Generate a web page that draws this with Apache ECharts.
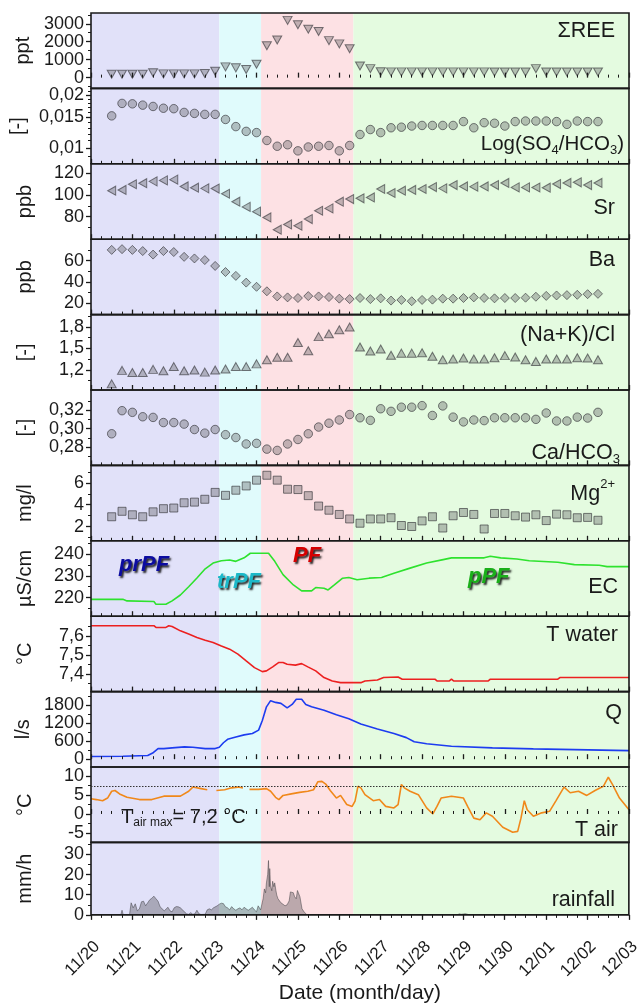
<!DOCTYPE html>
<html><head><meta charset="utf-8">
<script src="https://cdn.jsdelivr.net/npm/echarts@6/dist/echarts.min.js"></script>
<style>html,body{margin:0;padding:0;background:#fff}#c{width:643px;height:1005px}</style>
</head><body><div id="c"></div>
<script>
// ---------- data ----------
const dateLabels = ['11/20','11/21','11/22','11/23','11/24','11/25','11/26','11/27','11/28','11/29','11/30','12/01','12/02','12/03'];
const phaseBounds = [0, 3.1, 4.11, 6.34, 13];
const phaseColors = ['#e1e1f9', '#e0fbfc', '#fde1e4', '#e4fbe0'];
const phaseNames = ['prPF', 'trPF', 'PF', 'pPF'];

// sampling times (days after 11/20 00:00)
const sampleDays = [0.5,0.75,1,1.25,1.5,1.75,2,2.25,2.5,2.75,3,3.25,3.5,3.75,4,4.25,4.5,4.75,5,5.25,5.5,5.75,6,6.25,6.5,6.75,7,7.25,7.5,7.75,8,8.25,8.5,8.75,9,9.25,9.5,9.75,10,10.25,10.5,10.75,11,11.25,11.5,11.75,12,12.25];

const ree = [190,190,190,190,270,210,210,210,210,230,360, 600,545,450,750, 1780,2100,3190,2945,2700,2570,2060,1880,1610, 650,500,330,320,320,320,320,320,320,320,320,320,320,310,310,310,310,500,310,310,310,310,310,310];
const so4hco3 = [0.0152,0.0179,0.0178,0.0175,0.0172,0.0168,0.0167,0.0159,0.0157,0.0155,0.0155, 0.0145,0.0132,0.0124,0.0122, 0.0110,0.0102,0.0104,0.0096,0.0101,0.0102,0.0103,0.0096,0.0103, 0.0119,0.0127,0.0122,0.0130,0.0131,0.0133,0.0134,0.0134,0.0134,0.0134,0.0141,0.0130,0.0139,0.0138,0.0133,0.0141,0.0142,0.0142,0.0142,0.0141,0.0136,0.0142,0.0141,0.0141];
const sr = [104,104.7,110,111,112.7,113.6,114.3,108,106.8,106.2,106, 101.2,93.8,89,84.6, 79.2,67.8,72.7,71.5,77.7,85.4,87.6,93.8,96.3, 97,97.8,105.6,101.9,104,104.7,105.6,107.4,106.2,109.3,108,107.8,108,109.3,111.2,107.1,107.1,107,106.8,110.2,111.2,111.8,109.3,111.2];
const ba = [70,70.7,70,68.9,65.6,68.9,68,63.5,62,60.5,55, 49.3,45.7,39.4,35.5, 31.3,26.5,25.6,25,26.8,26.5,25.9,24.4,24, 25,24,24.7,22.6,23.2,22,23.2,23.5,24.4,24.4,25,25.6,25,24.7,25,25,25.3,26.2,27,27.4,27.7,28,28.6,28.9];
const nakcl = [1.005,1.193,1.164,1.164,1.207,1.188,1.246,1.188,1.198,1.169,1.198, 1.212,1.246,1.246,1.284, 1.342,1.375,1.375,1.582,1.466,1.663,1.702,1.76,1.798, 1.519,1.462,1.49,1.404,1.433,1.433,1.438,1.39,1.342,1.351,1.366,1.351,1.351,1.37,1.399,1.38,1.342,1.318,1.351,1.351,1.351,1.37,1.366,1.342];
const cahco3 = [0.2944,0.3195,0.3177,0.3129,0.3122,0.3066,0.3066,0.3049,0.299,0.2951,0.299, 0.2934,0.2903,0.2833,0.284, 0.2777,0.2763,0.2833,0.2882,0.2944,0.3017,0.3059,0.3094,0.3153, 0.3118,0.309,0.3216,0.3188,0.3233,0.3233,0.325,0.3143,0.3247,0.3125,0.3073,0.3094,0.3087,0.3118,0.3118,0.3118,0.3118,0.3101,0.317,0.3083,0.3083,0.3125,0.3115,0.3177];
const mg = [2.9,3.4,3.08,2.9,3.35,3.64,3.7,4.18,4.24,4.5,5.13, 4.86,5.33,5.72,6.25, 6.7,6.25,5.42,5.39,4.83,3.88,3.5,3.11,2.7, 2.31,2.7,2.7,2.81,2.1,2.01,2.52,2.9,1.87,2.99,3.29,3.11,1.78,3.2,3.2,2.99,2.87,3.08,2.55,3.14,3.08,2.81,2.84,2.58];

// continuous records [day, value]
const ec = [[0,219.2],[0.77,219.2],[0.87,218.5],[1.52,218.2],[1.57,217],[1.81,217],[1.96,218.5],[2.16,221.2],[2.36,225],[2.56,229],[2.76,233.2],[2.95,235.8],[3.15,236.9],[3.35,237.2],[3.5,236.6],[3.7,238.2],[3.85,240.3],[4.29,240.3],[4.44,236.6],[4.64,230.5],[4.89,225.8],[5.09,223.1],[5.33,223.1],[5.43,224.6],[5.63,224.3],[5.73,223.5],[5.88,225.8],[6.08,228.9],[6.23,229.2],[6.43,228.2],[6.72,228.9],[7.02,229.2],[7.32,231.2],[7.71,233.5],[8.11,235.8],[8.51,237.4],[8.71,238.2],[9.5,238.2],[9.65,238.9],[9.9,238.2],[10.29,237.7],[10.59,236.9],[11.28,236.2],[11.68,235.1],[12.28,234.8],[12.47,234.2],[13,234.2]];
const twater = [[0,7.653],[1.52,7.653],[1.57,7.644],[1.81,7.644],[1.88,7.653],[1.96,7.649],[2.16,7.626],[2.36,7.609],[2.56,7.591],[2.76,7.577],[2.95,7.565],[3.15,7.547],[3.35,7.53],[3.55,7.504],[3.75,7.468],[3.95,7.433],[4.14,7.412],[4.24,7.416],[4.39,7.437],[4.54,7.46],[4.64,7.46],[4.74,7.451],[4.94,7.446],[5.09,7.454],[5.24,7.437],[5.43,7.416],[5.63,7.381],[5.83,7.363],[6.03,7.354],[6.52,7.354],[6.62,7.363],[6.92,7.368],[7.07,7.381],[7.42,7.384],[7.52,7.372],[8.31,7.372],[8.36,7.363],[8.66,7.363],[8.71,7.372],[8.76,7.363],[9.6,7.363],[9.65,7.372],[11.28,7.372],[11.33,7.381],[13,7.381]];
const discharge = [[0,91],[0.77,100],[1.37,125],[1.49,205],[1.62,353],[1.76,353],[1.96,376],[2.26,410],[2.46,399],[2.76,353],[3.0,353],[3.1,399],[3.2,547],[3.3,661],[3.5,740],[3.7,809],[3.9,854],[4.05,968],[4.14,1287],[4.24,1743],[4.34,1948],[4.46,1891],[4.59,1857],[4.74,1709],[4.86,1822],[4.96,1993],[5.09,1993],[5.19,1822],[5.33,1743],[5.63,1629],[5.93,1481],[6.23,1344],[6.52,1173],[6.92,1002],[7.32,854],[7.62,718],[7.81,581],[8.11,513],[8.71,433],[9.7,376],[10.69,342],[11.68,319],[13,285]];
const tair = [[0,4.0],[0.13,3.8],[0.28,3.5],[0.4,4.2],[0.5,6.0],[0.58,6.2],[0.69,5.3],[0.87,4.4],[1.17,3.8],[1.47,3.8],[1.76,4.7],[2.16,4.7],[2.36,6.0],[2.46,7.1],[2.66,6.7],[2.81,6.4],[2.9,null],[3.03,6.2],[3.23,6.4],[3.4,6.9],[3.55,7.1],[3.67,6.9],[3.75,null],[3.83,6.5],[4.05,6.5],[4.24,6.7],[4.34,6.0],[4.46,4.4],[4.54,3.8],[4.64,4.9],[4.84,5.3],[5.04,5.7],[5.24,6.0],[5.38,6.4],[5.48,8.5],[5.58,8.6],[5.68,7.8],[5.78,6.2],[5.93,4.2],[6.03,4.9],[6.18,2.5],[6.31,2.0],[6.38,3.4],[6.45,7.3],[6.52,6.9],[6.62,5.1],[6.82,3.5],[6.97,3.8],[7.12,2.0],[7.32,1.6],[7.42,2.5],[7.5,7.8],[7.57,6.9],[7.71,6.0],[7.91,5.1],[8.11,1.6],[8.26,0],[8.36,2.0],[8.46,4.2],[8.71,4.7],[9.0,4.2],[9.1,2.0],[9.25,-1.1],[9.4,-1.5],[9.55,0.3],[9.7,-0.6],[9.95,-3.5],[10.19,-4.8],[10.31,-4.6],[10.39,-1.1],[10.47,3.5],[10.54,1.1],[10.69,-0.6],[10.89,0.3],[11.08,0.7],[11.23,3.4],[11.43,7.1],[11.58,5.6],[11.78,6.0],[11.98,4.9],[12.18,6.2],[12.38,7.3],[12.5,9.7],[12.6,7.8],[12.77,4.2],[13,1.1]];
const tairMax = 7.2;
const rain = [[0,0],[0.72,0],[0.75,2.3],[0.78,0],[0.93,0],[0.97,6],[1.02,3.5],[1.07,5.5],[1.12,2],[1.17,3],[1.22,6.5],[1.27,6.8],[1.32,4.5],[1.37,6],[1.42,7.5],[1.47,8.3],[1.52,9.3],[1.57,8],[1.62,6.8],[1.67,4],[1.72,3],[1.77,2],[1.81,2.3],[1.86,3.8],[1.91,2],[1.96,1.5],[2.01,3.5],[2.06,4.1],[2.11,4],[2.16,3.5],[2.21,2.5],[2.26,1.5],[2.31,0.5],[2.36,0.3],[2.41,1.1],[2.46,0.3],[2.51,0.5],[2.56,2.3],[2.61,0.5],[2.66,0.2],[2.76,0.3],[2.81,2.5],[2.86,3],[2.91,2.5],[2.96,3.5],[3.0,3.8],[3.05,4.5],[3.1,5.3],[3.15,5.8],[3.2,5.6],[3.25,4],[3.3,3.5],[3.35,2.5],[3.4,4.1],[3.45,3],[3.5,2.3],[3.55,3],[3.6,3.5],[3.65,2.5],[3.7,3.8],[3.75,3],[3.8,2.3],[3.85,3],[3.9,3.8],[3.95,2.5],[4.0,1.5],[4.04,4.5],[4.07,5],[4.1,2.5],[4.13,5.3],[4.16,8],[4.19,12.9],[4.22,11],[4.24,15.9],[4.27,20],[4.29,27],[4.31,14],[4.32,23],[4.34,14.4],[4.37,12],[4.39,16.7],[4.42,14],[4.44,15.9],[4.47,12],[4.49,9.8],[4.52,8],[4.54,7.6],[4.59,6],[4.64,5.3],[4.69,4.5],[4.74,5],[4.79,7],[4.82,11.4],[4.86,10.6],[4.89,11],[4.92,9.1],[4.96,8],[4.99,12.1],[5.02,12.5],[5.05,9],[5.07,8.3],[5.1,3],[5.12,3],[5.15,1.5],[5.19,1.5],[5.22,0],[8.85,0],[8.9,0.5],[8.95,0.3],[9.05,0.6],[9.1,0.3],[9.15,0],[13,0]];

// axis ticks / labels
const reeTicks = [0,1000,2000,3000], reeMinor = [-500,500,1500,2500,3500];
const so4Ticks = [0.01,0.015,0.02], so4Minor = [0.009,0.011,0.012,0.013,0.014,0.016,0.017,0.018,0.019,0.021];
const srTicks = [80,100,120], srMinor = [70,90,110];
const baTicks = [20,40,60], baMinor = [30,50,70];
const nakTicks = [1.2,1.5,1.8], nakMinor = [1.05,1.35,1.65,1.95];
const caTicks = [0.28,0.30,0.32], caMinor = [0.27,0.29,0.31,0.33];
const mgTicks = [2,4,6], mgMinor = [1,3,5,7];
const ecTicks = [220,230,240], ecMinor = [215,225,235,245];
const twTicks = [7.4,7.5,7.6], twMinor = [7.35,7.45,7.55,7.65];
const qTicks = [0,600,1200,1800], qMinor = [300,900,1500,2100];
const taTicks = [-5,0,5,10], taMinor = [-2.5,2.5,7.5];
const rainTicks = [0,10,20,30], rainMinor = [5,15,25,35];

// ---------- chart ----------
const FONT = '"Liberation Sans", Arial, sans-serif';
const INK = '#1a1a1a';
const lg = v => Math.log10(v);
const fmtDec = d => v => v.toFixed(d).replace('.', ',');
const fmtLog = v => String(Math.round(Math.pow(10, v) * 1e4) / 1e4).replace('.', ',');

const MK = { color: 'rgba(95,95,100,0.48)', borderColor: 'rgba(50,50,55,0.8)', borderWidth: 1 };

const panels = [
  { unit: 'ppt', kind: 'scatter', values: ree, symbol: 'triangle', rot: 180, size: [9, 8], min: -600, max: 3600, ticks: reeTicks, minor: reeMinor, fmt: fmtDec(0) },
  { unit: '[-]', kind: 'scatter', values: so4hco3.map(lg), symbol: 'circle', size: 8.5, min: lg(0.0081), max: lg(0.0218), ticks: so4Ticks.map(lg), minor: so4Minor.map(lg), fmt: fmtLog },
  { unit: 'ppb', kind: 'scatter', values: sr, symbol: 'triangle', rot: 90, size: [9, 8], min: 59, max: 129, ticks: srTicks, minor: srMinor, fmt: fmtDec(0) },
  { unit: 'ppb', kind: 'scatter', values: ba, symbol: 'diamond', size: 9, min: 9.5, max: 80, ticks: baTicks, minor: baMinor, fmt: fmtDec(0) },
  { unit: '[-]', kind: 'scatter', values: nakcl, symbol: 'triangle', rot: 0, size: [9, 8], min: 0.92, max: 1.97, ticks: nakTicks, minor: nakMinor, fmt: fmtDec(1) },
  { unit: '[-]', kind: 'scatter', values: cahco3, symbol: 'circle', size: 8.5, min: 0.26, max: 0.342, ticks: caTicks, minor: caMinor, fmt: fmtDec(2) },
  { unit: 'mg/l', kind: 'scatter', values: mg, symbol: 'rect', size: 8, min: 0.7, max: 7.6, ticks: mgTicks, minor: mgMinor, fmt: fmtDec(0) },
  { unit: 'µS/cm', kind: 'line', values: ec, color: '#2ee22e', min: 211.5, max: 246, ticks: ecTicks, minor: ecMinor, fmt: fmtDec(0) },
  { unit: '°C', kind: 'line', values: twater, color: '#ec2020', min: 7.307, max: 7.703, ticks: twTicks, minor: twMinor, fmt: fmtDec(1) },
  { unit: 'l/s', kind: 'line', values: discharge, color: '#1d3cf0', min: -260, max: 2250, ticks: qTicks, minor: qMinor, fmt: fmtDec(0) },
  { unit: '°C', kind: 'line', values: tair, color: '#f0881a', min: -7.5, max: 12.4, ticks: taTicks, minor: taMinor, fmt: fmtDec(0), ref: tairMax },
  { unit: 'mm/h', kind: 'area', values: rain, min: 0, max: 36, ticks: rainTicks, minor: rainMinor, fmt: fmtDec(0) }
];

const L = 91, R = 14, TOP0 = 13, H = 75.4;
const grids = [], xAxes = [], yAxes = [], series = [];
const bands = phaseColors.map((c, k) => [{ xAxis: phaseBounds[k], itemStyle: { color: c } }, { xAxis: phaseBounds[k + 1] }]);

panels.forEach((p, i) => {
  const last = i === panels.length - 1;
  grids.push({ left: L, right: R, top: TOP0 + H * i, height: H, show: true, backgroundColor: 'transparent', borderColor: INK, borderWidth: 1.6, z: 4 });
  xAxes.push({
    gridIndex: i, type: 'value', min: 0, max: 13, interval: 1, z: 5,
    axisLine: { show: false },
    axisTick: { show: true, inside: !last, length: 5, lineStyle: { color: INK, width: 1.3 } },
    minorTick: { show: true, splitNumber: 4, length: 3, lineStyle: { color: INK, width: 1 } },
    splitLine: { show: false }, minorSplitLine: { show: false },
    axisLabel: { show: last, rotate: 45, fontSize: 17, lineHeight: 17, color: INK, fontFamily: FONT, margin: 23, verticalAlign: 'top', formatter: v => dateLabels[Math.round(v)] },
    name: last ? 'Date (month/day)' : '', nameLocation: 'middle', nameGap: 65,
    nameTextStyle: { fontSize: 21, color: INK, fontFamily: FONT }
  });
  yAxes.push({
    gridIndex: i, type: 'value', position: 'left', min: p.min, max: p.max, z: 5,
    axisLine: { show: false },
    axisTick: { show: true, length: 5, customValues: p.ticks, lineStyle: { color: INK, width: 1.3 } },
    axisLabel: { show: true, customValues: p.ticks, fontSize: 18, color: INK, fontFamily: FONT, margin: 7, formatter: p.fmt },
    splitLine: { show: false },
    name: p.unit, nameLocation: 'middle', nameGap: 56, nameRotate: 90,
    nameTextStyle: { fontSize: 20, color: INK, fontFamily: FONT }
  });
  yAxes.push({
    gridIndex: i, type: 'value', position: 'left', min: p.min, max: p.max, z: 5,
    axisLine: { show: false },
    axisTick: { show: true, length: 3, customValues: p.minor, lineStyle: { color: INK, width: 1 } },
    axisLabel: { show: false }, splitLine: { show: false }
  });
  const s = { xAxisIndex: i, yAxisIndex: 2 * i, z: 3, silent: true, animation: false,
    markArea: { silent: true, data: bands } };
  if (p.kind === 'scatter') {
    Object.assign(s, { type: 'scatter', data: sampleDays.map((d, k) => [d, p.values[k]]), symbol: p.symbol, symbolRotate: p.rot || 0, symbolSize: p.size, itemStyle: MK });
  } else if (p.kind === 'line') {
    Object.assign(s, { type: 'line', data: p.values, showSymbol: false, symbol: 'none', connectNulls: false, lineStyle: { color: p.color, width: 1.6 } });
    if (p.ref !== undefined) {
      s.markLine = { silent: true, symbol: 'none', label: { show: false }, lineStyle: { color: '#333', type: [1.5, 1.5], width: 1 }, data: [{ yAxis: p.ref }] };
    }
  } else {
    Object.assign(s, { type: 'line', data: p.values, showSymbol: false, symbol: 'none', lineStyle: { color: 'rgba(55,55,60,0.6)', width: 0.8 }, areaStyle: { color: 'rgba(70,68,75,0.52)' } });
  }
  series.push(s);
});

const LBL = 21.5, SUB = 13;
const base = { fontSize: LBL, fontWeight: 'normal', color: INK, fontFamily: FONT };
const T = (text, right, top, rich) => ({ text, right, top, padding: 0, textStyle: Object.assign({}, base, rich ? { rich } : {}) });
const subRich = {
  a: Object.assign({}, base),
  s: Object.assign({}, base, { fontSize: SUB, verticalAlign: 'top', padding: [12, 0, 0, 0] })
};
const subRichLog = {
  a: Object.assign({}, base, { fontSize: 20.5 }),
  s: Object.assign({}, base, { fontSize: SUB, verticalAlign: 'top', padding: [12, 0, 0, 0] })
};
const supRich = {
  a: Object.assign({}, base, { verticalAlign: 'top', padding: [5, 0, 0, 0] }),
  p: Object.assign({}, base, { fontSize: SUB, verticalAlign: 'top' })
};
const phaseStyle = (color) => ({ fontSize: 22, fontStyle: 'italic', fontWeight: 'bold', color, fontFamily: FONT, textShadowColor: 'rgba(0,0,0,0.85)', textShadowBlur: 2, textShadowOffsetX: 1.5, textShadowOffsetY: 1.5 });

const titles = [
  T('ΣREE', 28, 20.5),
  T('{a|Log(SO}{s|4}{a|/HCO}{s|3}{a|)}', 19, 131.5, subRichLog),
  T('Sr', 28, 197.5),
  T('Ba', 28, 249.5),
  T('(Na+K)/Cl', 28, 324.5),
  T('{a|Ca/HCO}{s|3}', 23, 441, subRich),
  T('{a|Mg}{p|2+}', 28, 478, supRich),
  T('EC', 25, 576.5),
  T('T water', 25, 624.5),
  T('Q', 21, 702.5),
  T('T air', 25, 819.5),
  T('rainfall', 28, 889.5),
  { text: '{b|T}{s|air max}{b|= 7,2 °C}', left: 121, top: 806, padding: 0, textStyle: { rich: {
      b: Object.assign({}, base, { fontSize: 20 }),
      s: Object.assign({}, base, { fontSize: 12, verticalAlign: 'top', padding: [11, 0, 0, 0] }) } } },
  { text: phaseNames[0], left: 119, top: 554, padding: 0, textStyle: phaseStyle('#0c0ca0') },
  { text: phaseNames[1], left: 217, top: 571, padding: 0, textStyle: phaseStyle('#1cb9c9') },
  { text: phaseNames[2], left: 293, top: 545, padding: 0, textStyle: phaseStyle('#d60000') },
  { text: phaseNames[3], left: 468, top: 566, padding: 0, textStyle: phaseStyle('#1aaf1a') }
];

const chart = echarts.init(document.getElementById('c'), null, { renderer: 'canvas' });
chart.setOption({
  animation: false,
  backgroundColor: '#ffffff',
  title: titles,
  grid: grids,
  xAxis: xAxes,
  yAxis: yAxes,
  series: series
});
</script>
</body></html>
